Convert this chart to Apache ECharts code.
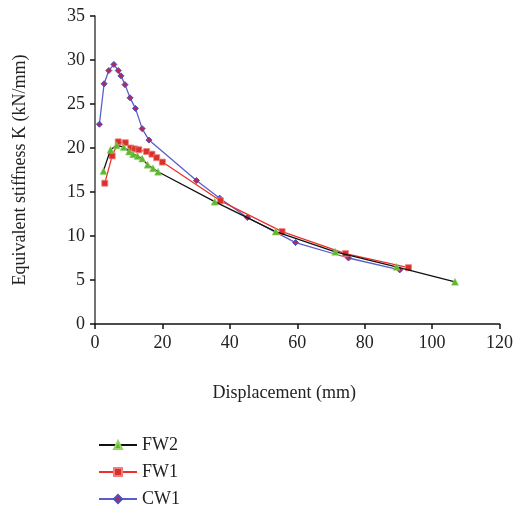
<!DOCTYPE html>
<html>
<head>
<meta charset="utf-8">
<script src="https://cdn.jsdelivr.net/npm/echarts@6/dist/echarts.min.js"></script>
<style>html,body{margin:0;padding:0;background:#fff}#c{width:516px;height:506px}</style>
</head>
<body>
<div id="c"></div>
<script>
var fw2X = [2.5, 4.6, 6.4, 8.5, 10.1, 11.3, 12.6, 14.0, 15.6, 17.2, 18.7, 35.5, 53.6, 71.3, 89.4, 106.8];
var fw2Y = [17.4, 19.8, 20.3, 20.1, 19.6, 19.3, 19.1, 18.8, 18.1, 17.7, 17.3, 13.9, 10.5, 8.2, 6.5, 4.8];
var fw1X = [2.9, 5.1, 6.9, 9.0, 10.6, 11.8, 13.0, 15.3, 16.9, 18.3, 20.0, 37.2, 55.5, 74.3, 93.0];
var fw1Y = [16.0, 19.1, 20.7, 20.6, 20.0, 19.9, 19.8, 19.6, 19.3, 18.9, 18.4, 14.0, 10.5, 8.0, 6.4];
var cw1X = [1.3, 2.7, 4.1, 5.6, 6.9, 7.7, 8.9, 10.4, 12.0, 14.0, 16.0, 30.1, 37.0, 45.2, 59.5, 75.2, 90.4];
var cw1Y = [22.7, 27.3, 28.8, 29.5, 28.8, 28.2, 27.2, 25.7, 24.5, 22.2, 20.9, 16.3, 14.3, 12.1, 9.25, 7.5, 6.15];
var xTicks = [0, 20, 40, 60, 80, 100, 120];
var yTicks = [0, 5, 10, 15, 20, 25, 30, 35];
var seriesNames = ['FW2', 'FW1', 'CW1'];

function pairs(xs, ys) { return xs.map(function (x, i) { return [x, ys[i]]; }); }

var FONT = 'Liberation Serif';
var FS = 18;
function legendFor(name, top) {
  return {
    orient: 'horizontal', left: 93, top: top, itemWidth: 38, itemHeight: 10,
    textStyle: { fontFamily: FONT, fontSize: FS, color: '#222' },
    data: [name]
  };
}
var chart = echarts.init(document.getElementById('c'), null, { renderer: 'canvas' });
chart.setOption({
  animation: false,
  backgroundColor: '#fff',
  grid: { left: 95, right: 15, top: 16, bottom: 182, containLabel: false },
  legend: [legendFor(seriesNames[0], 431), legendFor(seriesNames[1], 458), legendFor(seriesNames[2], 485)],
  xAxis: {
    type: 'value', min: xTicks[0], max: xTicks[xTicks.length - 1], interval: 20,
    name: 'Displacement (mm)', nameLocation: 'middle', nameGap: 60,
    nameTextStyle: { fontFamily: FONT, fontSize: FS, color: '#222', padding: [0, 26, 0, 0] },
    axisLine: { lineStyle: { color: '#111', width: 1.5 } },
    axisTick: { show: true, inside: false, length: 5, lineStyle: { color: '#111', width: 1.5 } },
    axisLabel: { fontFamily: FONT, fontSize: FS, color: '#222', margin: 10 },
    splitLine: { show: false }
  },
  yAxis: {
    type: 'value', min: yTicks[0], max: yTicks[yTicks.length - 1], interval: 5,
    name: 'Equivalent stiffness K (kN/mm)', nameLocation: 'middle', nameGap: 66, nameRotate: 90,
    nameTextStyle: { fontFamily: FONT, fontSize: FS, color: '#222' },
    axisLine: { show: true, lineStyle: { color: '#444', width: 1.5 } },
    axisTick: { show: true, inside: false, length: 5, lineStyle: { color: '#111', width: 1.5 } },
    axisLabel: { fontFamily: FONT, fontSize: FS, color: '#222', margin: 10 },
    splitLine: { show: false }
  },
  series: [
    {
      name: seriesNames[0], type: 'line', data: pairs(fw2X, fw2Y),
      symbol: 'triangle', symbolSize: 7, showAllSymbol: true,
      lineStyle: { color: '#111', width: 1.3 },
      itemStyle: { color: '#5cb82e', borderColor: '#9ad36a', borderWidth: 0.5 },
      z: 3
    },
    {
      name: seriesNames[1], type: 'line', data: pairs(fw1X, fw1Y),
      symbol: 'rect', symbolSize: 6, showAllSymbol: true,
      lineStyle: { color: '#e8322a', width: 1.3 },
      itemStyle: { color: '#d9302a', borderColor: '#f08080', borderWidth: 0.8 },
      z: 2
    },
    {
      name: seriesNames[2], type: 'line', data: pairs(cw1X, cw1Y),
      symbol: 'diamond', symbolSize: 6, showAllSymbol: true,
      lineStyle: { color: '#5a5fc8', width: 1.3 },
      itemStyle: { color: '#b02a5a', borderColor: '#4a4fc0', borderWidth: 1 },
      z: 1
    }
  ]
});
</script>
</body>
</html>
